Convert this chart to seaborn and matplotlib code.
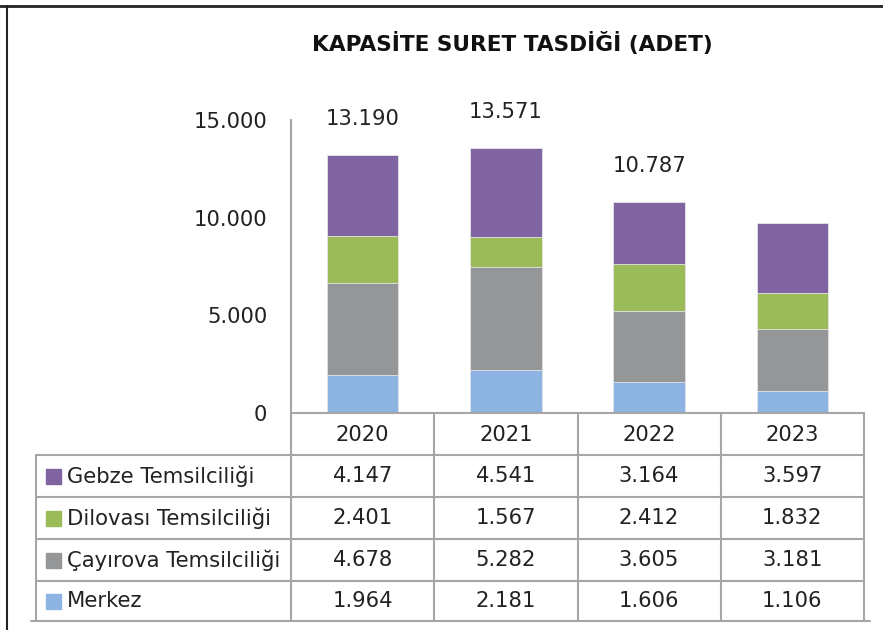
import numpy as np
import pandas as pd
import matplotlib
matplotlib.use("Agg")
import matplotlib.pyplot as plt
import seaborn as sns

sns.set_style("white")
plt.rcParams['font.family'] = ['DejaVu Sans']

# veriler
years = ["2020", "2021", "2022", "2023"]
merkez = [1964, 2181, 1606, 1106]
cayirova = [4678, 5282, 3605, 3181]
dilovasi = [2401, 1567, 2412, 1832]
gebze = [4147, 4541, 3164, 3597]
show_total = [True, True, True, False]

series_names = ["Merkez", "Çayırova Temsilciliği", "Dilovası Temsilciliği", "Gebze Temsilciliği"]
series_vals = [merkez, cayirova, dilovasi, gebze]
colors = ["#8DB3E2", "#959698", "#9BBB59", "#8064A2"]

title = "KAPASİTE SURET TASDİĞİ (ADET)"
FS = 15.2

W, H = 883, 630
fig = plt.figure(figsize=(W / 100, H / 100), dpi=100)

# bar alanı (piksel koordinatları)
px_left, px_right, px_top, px_bottom = 291, 864, 120, 413
ax = fig.add_axes([px_left / W, 1 - px_bottom / H,
                   (px_right - px_left) / W, (px_bottom - px_top) / H])

df = pd.DataFrame({"year": years})
cum = np.cumsum(np.array(series_vals), axis=0)

# üstten alta doğru kümülatif çiz
for i in range(len(series_vals) - 1, -1, -1):
    sns.barplot(x=df["year"], y=cum[i], color=colors[i], width=0.5,
                saturation=1, linewidth=0.6, edgecolor="#e6e6e6", ax=ax)

totals = cum[-1]
for i, t in enumerate(totals):
    if show_total[i]:
        ax.annotate(f"{t:,}".replace(",", "."), (i, t), xytext=(0, 26),
                    textcoords="offset points", ha="center", va="center",
                    fontsize=FS, color="#222222")

ax.set_xlim(-0.5, 3.5)
ax.set_ylim(0, 15000)
ax.set_yticks([0, 5000, 10000, 15000])
ax.set_yticklabels([f"{v:,}".replace(",", ".") for v in [0, 5000, 10000, 15000]])
ax.tick_params(axis="y", length=0, pad=17, labelsize=FS, labelcolor="#222222")
ax.set_xticks([])
ax.set_xlabel("")
ax.set_ylabel("")
for s in ["top", "right"]:
    ax.spines[s].set_visible(False)
ax.spines["left"].set_color("#a6a6a6")
ax.spines["bottom"].set_color("#a6a6a6")
ax.spines["left"].set_linewidth(1.5)
ax.spines["bottom"].set_linewidth(1.5)

# tablo ve çerçeve için kaplama eksen
ov = fig.add_axes([0, 0, 1, 1], zorder=-1)
ov.set_xlim(0, W)
ov.set_ylim(H, 0)
ov.axis("off")

grid_c = "#a6a6a6"
col_w = (px_right - px_left) / len(years)
col_edges = [px_left + k * col_w for k in range(len(years) + 1)]
row_edges = [413, 455, 497, 539, 581, 621]
label_left = 36

for x in col_edges:
    ov.plot([x, x], [row_edges[0], row_edges[-1]], color=grid_c, lw=1.5)
ov.plot([label_left, label_left], [row_edges[1], row_edges[-1]], color=grid_c, lw=1.5)
for y in row_edges[1:-1]:
    ov.plot([label_left, px_right], [y, y], color=grid_c, lw=1.5)
ov.plot([31, 870], [row_edges[-1], row_edges[-1]], color=grid_c, lw=1.5)

# başlık satırı
for k, yr in enumerate(years):
    ov.text((col_edges[k] + col_edges[k + 1]) / 2, (row_edges[0] + row_edges[1]) / 2 + 1,
            yr, ha="center", va="center", fontsize=FS, color="#222222")

# veri satırları (Gebze üstte)
for r, idx in enumerate(range(len(series_vals) - 1, -1, -1)):
    yc = (row_edges[r + 1] + row_edges[r + 2]) / 2
    ov.add_patch(plt.Rectangle((46, yc - 7.5), 15, 15, color=colors[idx]))
    ov.text(67, yc, series_names[idx], ha="left", va="center",
            fontsize=FS, color="#222222")
    for k in range(len(years)):
        ov.text((col_edges[k] + col_edges[k + 1]) / 2, yc,
                f"{series_vals[idx][k]:,}".replace(",", "."),
                ha="center", va="center", fontsize=FS, color="#222222")

# çerçeve
ov.plot([0, W], [6, 6], color="#222222", lw=2)
ov.plot([7, 7], [6, H], color="#222222", lw=1.5)

fig.text(512 / W, 1 - 43 / H, title, ha="center", va="center",
         fontsize=15.6, fontweight="bold", color="#111111")

fig.savefig("out.png", dpi=100)
